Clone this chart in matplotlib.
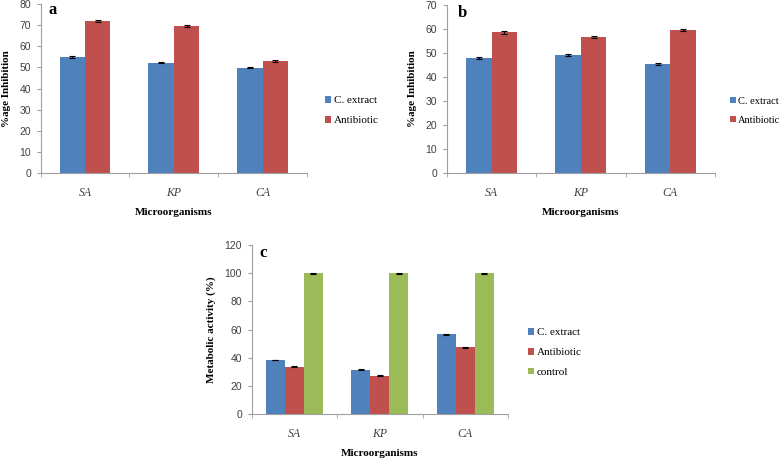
import matplotlib
matplotlib.use("Agg")
import matplotlib.pyplot as plt
import numpy as np
from matplotlib.patches import Patch

categories = ["SA", "KP", "CA"]

a_extract = [55.0, 52.3, 49.8]
a_antibiotic = [72.0, 69.5, 53.0]
a_extract_err = [0.4, 0.3, 0.2]
a_antibiotic_err = [0.6, 0.6, 0.4]

b_extract = [47.8, 49.0, 45.5]
b_antibiotic = [58.5, 56.7, 59.4]
b_extract_err = [0.3, 0.4, 0.4]
b_antibiotic_err = [0.5, 0.3, 0.4]

c_extract = [38.5, 31.5, 56.8]
c_antibiotic = [33.7, 27.5, 47.5]
c_control = [100.0, 100.0, 100.0]
c_extract_err = [0.3, 0.3, 0.3]
c_antibiotic_err = [0.3, 0.4, 0.4]
c_control_err = [0.3, 0.3, 0.3]

BLUE = "#4F81BD"
RED = "#C0504D"
GREEN = "#9BBB59"
AXC = "#A0A0A0"
TXT = "#404040"
SERIF = "Liberation Serif"
SANS = "Liberation Sans"

fig = plt.figure(figsize=(7.84, 4.58), dpi=100)


def panel(rect, series, errs, colors, labels, ymax, ystep, ylabel, letter, legend_pos,
          letter_pos, legend_size=8):
    ax = fig.add_axes(rect)
    n = len(series)
    x = np.arange(len(categories))
    w = 1.0 / (n + 1.5)
    for i, (vals, err, col, lab) in enumerate(zip(series, errs, colors, labels)):
        off = (i - (n - 1) / 2) * w
        ax.bar(x + off, vals, width=w, color=col, label=lab,
               yerr=err, capsize=2.2, error_kw=dict(elinewidth=0.8, capthick=0.8, ecolor="black"))
    ax.set_xlim(-0.5, len(categories) - 0.5)
    ax.set_ylim(0, ymax)
    ax.set_yticks(np.arange(0, ymax + 0.1, ystep))
    ax.set_xticks(x)
    ax.set_xticklabels(categories, fontstyle="italic", family=SERIF, fontsize=8.5, color=TXT)
    ax.set_xticks(np.arange(-0.5, len(categories), 1.0), minor=True)
    ax.tick_params(axis="x", which="major", length=0, pad=10)
    ax.tick_params(axis="x", which="minor", length=3, color=AXC, direction="out")
    ax.tick_params(axis="y", length=3, color=AXC, direction="out", labelsize=7.5,
                   labelcolor=TXT, pad=4)
    for lab in ax.get_yticklabels():
        lab.set_family(SANS)
    for s in ["top", "right"]:
        ax.spines[s].set_visible(False)
    for s in ["left", "bottom"]:
        ax.spines[s].set_color(AXC)
        ax.spines[s].set_linewidth(0.8)
    ax.set_ylabel(ylabel, family=SERIF, fontweight="bold", fontsize=8, labelpad=6)
    ax.set_xlabel("Microorganisms", family=SERIF, fontweight="bold", fontsize=8, labelpad=6)
    ax.text(letter_pos[0], letter_pos[1], letter, transform=ax.transAxes, family=SERIF,
            fontweight="bold", fontsize=12, va="top", ha="left")
    handles = [Patch(facecolor=c, label=l) for c, l in zip(colors, labels)]
    leg = ax.legend(handles=handles, loc="center left", bbox_to_anchor=legend_pos,
                    frameon=False, handlelength=0.55, handleheight=0.55, handletextpad=0.25,
                    labelspacing=0.95, prop={"family": SERIF, "size": legend_size},
                    borderaxespad=0)
    for t in leg.get_texts():
        t.set_color("black")
    return ax


panel([0.0519, 0.6216, 0.3397, 0.370],
      [a_extract, a_antibiotic], [a_extract_err, a_antibiotic_err],
      [BLUE, RED], ["C. extract", "Antibiotic"], 80, 10, "%age Inhibition", "a",
      (1.05, 0.37), (0.03, 1.01))

panel([0.570, 0.6216, 0.342, 0.368],
      [b_extract, b_antibiotic], [b_extract_err, b_antibiotic_err],
      [BLUE, RED], ["C. extract", "Antibiotic"], 70, 10, "%age Inhibition", "b",
      (1.04, 0.37), (0.04, 1.0), legend_size=7.5)

panel([0.321, 0.0954, 0.327, 0.3696],
      [c_extract, c_antibiotic, c_control], [c_extract_err, c_antibiotic_err, c_control_err],
      [BLUE, RED, GREEN], ["C. extract", "Antibiotic", "control"], 120, 20,
      "Metabolic activity (%)", "c", (1.06, 0.365), (0.03, 1.0))

fig.savefig("out.png", dpi=100)
